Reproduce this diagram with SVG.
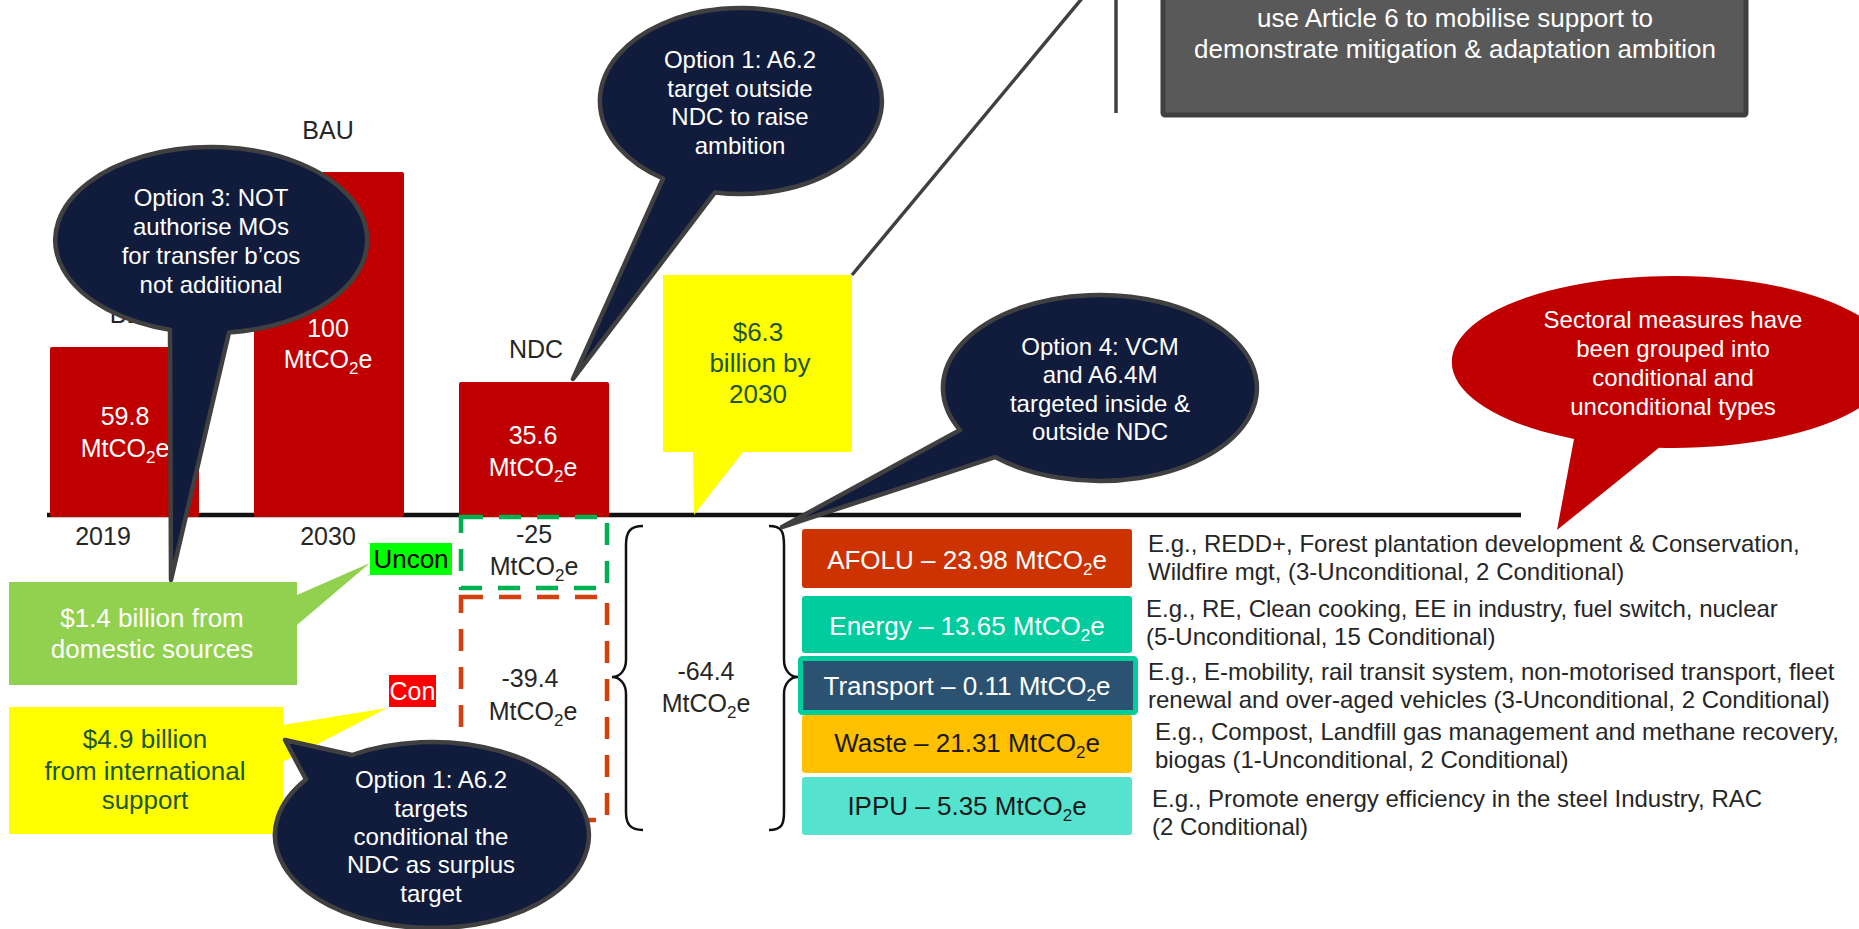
<svg xmlns="http://www.w3.org/2000/svg" width="1859" height="929" viewBox="0 0 1859 929">
<style>
text { font-family: "Liberation Sans", Arial, Helvetica, sans-serif; }
.c { text-anchor: middle; }
.w { fill: #ffffff; }
.d { fill: #262626; }
.g { fill: #1E5631; }
.s24 { font-size: 24px; }
.s25 { font-size: 25px; }
.s26 { font-size: 26px; }
.bar { fill: #C00000; }
.bub { fill: #111C3D; stroke: #404040; stroke-width: 4.5; stroke-linejoin: round; }
.ln { stroke: #404040; stroke-width: 3.5; fill: none; }
.brace { stroke: #111111; stroke-width: 2.5; fill: none; }
.sec { stroke: none; }
</style>

<rect x="0" y="0" width="1859" height="929" fill="#ffffff"/>

<g id="connectors">
  <line class="ln" x1="852" y1="275" x2="1089" y2="-10"/>
  <line class="ln" x1="1116" y1="-5" x2="1116" y2="113" stroke-width="4"/>
</g>

<g id="goal-box">
  <rect x="1163" y="-10" width="583" height="125" rx="2" fill="#595959" stroke="#404040" stroke-width="5"/>
  <text class="c w s26" x="1455" y="27">use Article 6 to mobilise support to</text>
  <text class="c w s26" x="1455" y="58">demonstrate mitigation &amp; adaptation ambition</text>
</g>

<g id="axis">
  <line x1="47" y1="515" x2="1521" y2="515" stroke="#111111" stroke-width="4.5"/>
</g>

<g id="bar-2019">
  <text class="c d s25" x="125" y="323">BL</text>
  <rect class="bar" x="50" y="347" width="149" height="170" rx="2"/>
  <text class="c w s25" x="125" y="425">59.8</text>
  <text class="c w s25" x="125" y="457">MtCO<tspan font-size="17" dy="6">2</tspan><tspan dy="-6">e</tspan></text>
  <text class="c d s25" x="103" y="545">2019</text>
</g>

<g id="bar-bau">
  <text class="c d s25" x="328" y="139">BAU</text>
  <rect class="bar" x="254" y="172" width="150" height="345" rx="2"/>
  <text class="c w s25" x="328" y="337">100</text>
  <text class="c w s25" x="328" y="368">MtCO<tspan font-size="17" dy="6">2</tspan><tspan dy="-6">e</tspan></text>
  <text class="c d s25" x="328" y="545">2030</text>
</g>

<g id="bar-ndc">
  <text class="c d s25" x="536" y="358">NDC</text>
  <rect class="bar" x="459" y="382" width="150" height="135" rx="2"/>
  <text class="c w s25" x="533" y="444">35.6</text>
  <text class="c w s25" x="533" y="476">MtCO<tspan font-size="17" dy="6">2</tspan><tspan dy="-6">e</tspan></text>
</g>

<g id="uncon-box">
  <rect x="461" y="517" width="146" height="71" fill="none" stroke="#00B050" stroke-width="4.5" stroke-dasharray="22 16"/>
  <text class="c d s25" x="534" y="543">-25</text>
  <text class="c d s25" x="534" y="575">MtCO<tspan font-size="17" dy="6">2</tspan><tspan dy="-6">e</tspan></text>
</g>

<g id="con-box">
  <rect x="461" y="597" width="146" height="223" fill="none" stroke="#D43F0C" stroke-width="4.5" stroke-dasharray="22 16"/>
  <text class="c d s25" x="530" y="687">-39.4</text>
  <text class="c d s25" x="533" y="720">MtCO<tspan font-size="17" dy="6">2</tspan><tspan dy="-6">e</tspan></text>
</g>

<g id="uncon-label">
  <rect x="370" y="543" width="82" height="32" fill="#00FF00"/>
  <text class="c s26" x="411" y="568" fill="#000000">Uncon</text>
</g>

<g id="con-label">
  <rect x="389" y="675" width="47" height="32" fill="#FF0000"/>
  <text class="c w s25" x="412.5" y="700">Con</text>
</g>

<g id="total">
  <path class="brace" d="M643,526 C630,526 626,532 626,545 L626,660 C626,670 620,677 612,677 C620,677 626,684 626,694 L626,812 C626,824 630,830 643,830"/>
  <path class="brace" d="M769,526 C782,526 784,532 784,545 L784,660 C784,670 790,677 798,677 C790,677 784,684 784,694 L784,812 C784,824 782,830 769,830"/>
  <text class="c d s25" x="706" y="680">-64.4</text>
  <text class="c d s25" x="706" y="712">MtCO<tspan font-size="17" dy="6">2</tspan><tspan dy="-6">e</tspan></text>
</g>

<g id="finance-total">
  <path d="M663,275 H852 V452 H743 L694,515 L693,452 H663 Z" fill="#FFFF00"/>
  <text class="c g s26" x="758" y="341">$6.3</text>
  <text class="c g s26" x="760" y="372">billion by</text>
  <text class="c g s26" x="758" y="403">2030</text>
</g>

<g id="finance-domestic">
  <path d="M9,582 H297 V595 L370,563 L297,625 V685 H9 Z" fill="#92D050"/>
  <text class="c w s26" x="152" y="627">$1.4 billion from</text>
  <text class="c w s26" x="152" y="658">domestic sources</text>
</g>

<g id="finance-international">
  <path d="M9,707 H283 V725 L387,708 L283,762 V834 H9 Z" fill="#FFFF00"/>
  <text class="c g s26" x="145" y="748">$4.9 billion</text>
  <text class="c g s26" x="145" y="780">from international</text>
  <text class="c g s26" x="145" y="809">support</text>
</g>

<g id="sector-afolu">
  <rect x="802" y="529" width="330" height="59" rx="3" fill="#CC3300"/>
  <text class="c w s26" x="967" y="569">AFOLU – 23.98 MtCO<tspan font-size="17" dy="6">2</tspan><tspan dy="-6">e</tspan></text>
  <text class="d s24" x="1148" y="552">E.g., REDD+, Forest plantation development &amp; Conservation,</text>
  <text class="d s24" x="1148" y="580">Wildfire mgt, (3-Unconditional, 2 Conditional)</text>
</g>

<g id="sector-energy">
  <rect x="802" y="596" width="330" height="57" rx="3" fill="#00CC9E"/>
  <text class="c w s26" x="967" y="635">Energy – 13.65 MtCO<tspan font-size="17" dy="6">2</tspan><tspan dy="-6">e</tspan></text>
  <text class="d s24" x="1146" y="617">E.g., RE, Clean cooking, EE in industry, fuel switch, nuclear</text>
  <text class="d s24" x="1146" y="645">(5-Unconditional, 15 Conditional)</text>
</g>

<g id="sector-transport">
  <rect x="800.5" y="658.5" width="335" height="54" rx="2" fill="#2B5371" stroke="#00CC9E" stroke-width="5"/>
  <text class="c w s26" x="967" y="695">Transport – 0.11 MtCO<tspan font-size="17" dy="6">2</tspan><tspan dy="-6">e</tspan></text>
  <text class="d s24" x="1148" y="680">E.g., E-mobility, rail transit system, non-motorised transport, fleet</text>
  <text class="d s24" x="1148" y="708">renewal and over-aged vehicles (3-Unconditional, 2 Conditional)</text>
</g>

<g id="sector-waste">
  <rect x="802" y="715" width="330" height="58" rx="3" fill="#FFC000"/>
  <text class="c s26" x="967" y="752" fill="#1a1a1a">Waste – 21.31 MtCO<tspan font-size="17" dy="6">2</tspan><tspan dy="-6">e</tspan></text>
  <text class="d s24" x="1155" y="740">E.g., Compost, Landfill gas management and methane recovery,</text>
  <text class="d s24" x="1155" y="768">biogas (1-Unconditional, 2 Conditional)</text>
</g>

<g id="sector-ippu">
  <rect x="802" y="777" width="330" height="58" rx="3" fill="#55E3CF"/>
  <text class="c s26" x="967" y="815" fill="#1a1a1a">IPPU – 5.35 MtCO<tspan font-size="17" dy="6">2</tspan><tspan dy="-6">e</tspan></text>
  <text class="d s24" x="1152" y="807">E.g., Promote energy efficiency in the steel Industry, RAC</text>
  <text class="d s24" x="1152" y="835">(2 Conditional)</text>
</g>

<g id="option3">
  <path class="bub" d="M229,332.4 A156,93 0 1 0 170,329.7 L171,580 Z"/>
  <text class="c w s24" x="211" y="206">Option 3: NOT</text>
  <text class="c w s24" x="211" y="235">authorise MOs</text>
  <text class="c w s24" x="211" y="264">for transfer b’cos</text>
  <text class="c w s24" x="211" y="293">not additional</text>
</g>

<g id="option1-outside">
  <path class="bub" d="M715,192.4 A141,93 0 1 0 663,178.5 L573,379 Z"/>
  <text class="c w s24" x="740" y="68">Option 1: A6.2</text>
  <text class="c w s24" x="740" y="97">target outside</text>
  <text class="c w s24" x="740" y="125">NDC to raise</text>
  <text class="c w s24" x="740" y="154">ambition</text>
</g>

<g id="option4">
  <path class="bub" d="M995,457.1 A157,93 0 1 0 960,430.1 L782,527 Z"/>
  <text class="c w s24" x="1100" y="355">Option 4: VCM</text>
  <text class="c w s24" x="1100" y="383">and A6.4M</text>
  <text class="c w s24" x="1100" y="412">targeted inside &amp;</text>
  <text class="c w s24" x="1100" y="440">outside NDC</text>
</g>

<g id="option1-conditional">
  <path class="bub" d="M306,779.5 L285,740 L352,755 A157,93 0 1 1 306,779.5 Z"/>
  <text class="c w s24" x="431" y="788">Option 1: A6.2</text>
  <text class="c w s24" x="431" y="817">targets</text>
  <text class="c w s24" x="431" y="845">conditional the</text>
  <text class="c w s24" x="431" y="873">NDC as surplus</text>
  <text class="c w s24" x="431" y="902">target</text>
</g>

<g id="sectoral-note">
  <path d="M1659,447.8 A221,86 0 1 0 1574,438.9 L1557,530 Z" fill="#C00000"/>
  <text class="c w s24" x="1673" y="328">Sectoral measures have</text>
  <text class="c w s24" x="1673" y="357">been grouped into</text>
  <text class="c w s24" x="1673" y="386">conditional and</text>
  <text class="c w s24" x="1673" y="415">unconditional types</text>
</g>
</svg>
